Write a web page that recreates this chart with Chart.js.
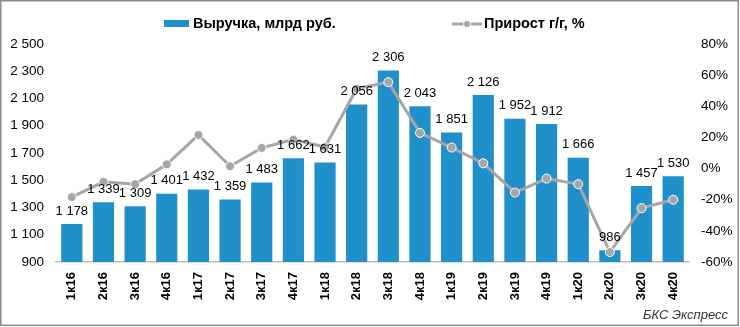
<!DOCTYPE html>
<html><head><meta charset="utf-8">
<script src="https://cdn.jsdelivr.net/npm/chart.js@4.4.0/dist/chart.umd.min.js"></script>
<style>html,body{margin:0;padding:0;background:#fff}#wrap{position:relative;width:740px;height:327px}</style>
</head><body><div id="wrap"><canvas id="c" width="740" height="327"></canvas></div>
<script>
const categories = ['1к16','2к16','3к16','4к16','1к17','2к17','3к17','4к17','1к18','2к18','3к18','4к18','1к19','2к19','3к19','4к19','1к20','2к20','3к20','4к20'];
const revenue = [1178,1339,1309,1401,1432,1359,1483,1662,1631,2056,2306,2043,1851,2126,1952,1912,1666,986,1457,1530];
const growth = [-18.3,-8.5,-10,2.7,21.6,1.5,13.3,18.6,13.9,51.3,55.5,22.9,13.5,3.4,-15.4,-6.4,-10.0,-53.6,-25.4,-20.0];
const leftTicks = {min:900, max:2500, step:200};
const rightTicks = {min:-60, max:80, step:20};
const seriesNames = ['Выручка, млрд руб.','Прирост г/г, %'];
const sourceText = 'БКС Экспресс';

const FONT = '"Liberation Sans", Arial, sans-serif';
const BLUE = '#2090cb';
const GREY = '#a6a6a6';
const fmt = v => String(v).replace(/\B(?=(\d{3})+(?!\d))/g, ' ');

const decor = {
  id:'decor',
  beforeDraw(chart){
    const c = chart.ctx;
    c.save(); c.fillStyle='#fff'; c.fillRect(0,0,chart.width,chart.height); c.restore();
  },
  afterDatasetsDraw(chart){
    const c = chart.ctx; const meta = chart.getDatasetMeta(1);
    c.save(); c.font = '13px ' + FONT; c.fillStyle = '#000'; c.textAlign='center'; c.textBaseline='middle';
    meta.data.forEach((b,i)=>{ c.fillText(fmt(revenue[i]), b.x, b.y - 13); });
    c.restore();
  },
  afterDraw(chart){
    const c = chart.ctx;
    c.save();
    // legend
    c.fillStyle = BLUE; c.fillRect(164,20,25,7);
    c.font = 'bold 14.5px ' + FONT; c.fillStyle='#000'; c.textBaseline='middle'; c.textAlign='left';
    c.fillText(seriesNames[0], 193, 24);
    c.strokeStyle = GREY; c.lineWidth = 3; c.beginPath(); c.moveTo(452,24); c.lineTo(482,24); c.stroke();
    c.beginPath(); c.arc(467,24,3.5,0,Math.PI*2); c.fillStyle=GREY; c.fill(); c.strokeStyle='#fff'; c.lineWidth=1; c.stroke();
    c.fillStyle='#000'; c.fillText(seriesNames[1], 484, 24);
    // source
    c.font = 'italic 13px ' + FONT; c.fillStyle='#333'; c.textAlign='right';
    c.fillText(sourceText, 728, 315);
    // border
    c.strokeStyle = '#8c8c8c'; c.lineWidth = 1.5; c.strokeRect(0.75,0.75,737.5,324.5);
    c.restore();
  }
};

new Chart(document.getElementById('c'), {
  data: {
    labels: categories,
    datasets: [
      {type:'line', label:seriesNames[1], data:growth, yAxisID:'y1', borderColor:GREY, backgroundColor:GREY,
       borderWidth:3, pointRadius:4.5, pointBackgroundColor:GREY, pointBorderColor:'#fff', pointBorderWidth:1, tension:0, order:0},
      {type:'bar', label:seriesNames[0], data:revenue, yAxisID:'y', backgroundColor:BLUE,
       barPercentage:0.67, categoryPercentage:1, order:1}
    ]
  },
  options: {
    responsive:false, animation:false, devicePixelRatio:1,
    layout:{padding:{top:44,left:0,right:0,bottom:0}},
    plugins:{legend:{display:false}, tooltip:{enabled:false}},
    scales:{
      x:{grid:{display:false, drawTicks:false}, border:{color:'#bfbfbf', width:1.5},
         ticks:{maxRotation:90, minRotation:90, autoSkip:false, padding:10, color:'#000', font:{family:FONT, size:13, weight:'bold'}},
         afterFit(s){ s.height = 65; }},
      y:{position:'left', min:leftTicks.min, max:leftTicks.max, grid:{display:false, drawTicks:false}, border:{display:false},
         ticks:{stepSize:leftTicks.step, padding:12, color:'#000', font:{family:FONT, size:13.5}, callback:v=>fmt(v)},
         afterFit(s){ s.width = 56; }},
      y1:{position:'right', min:rightTicks.min, max:rightTicks.max, grid:{display:false, drawTicks:false}, border:{display:false},
         ticks:{stepSize:rightTicks.step, padding:12, color:'#000', font:{family:FONT, size:13.5}, callback:v=>v+'%'},
         afterFit(s){ s.width = 51; }}
    }
  },
  plugins:[decor]
});
</script></body></html>
